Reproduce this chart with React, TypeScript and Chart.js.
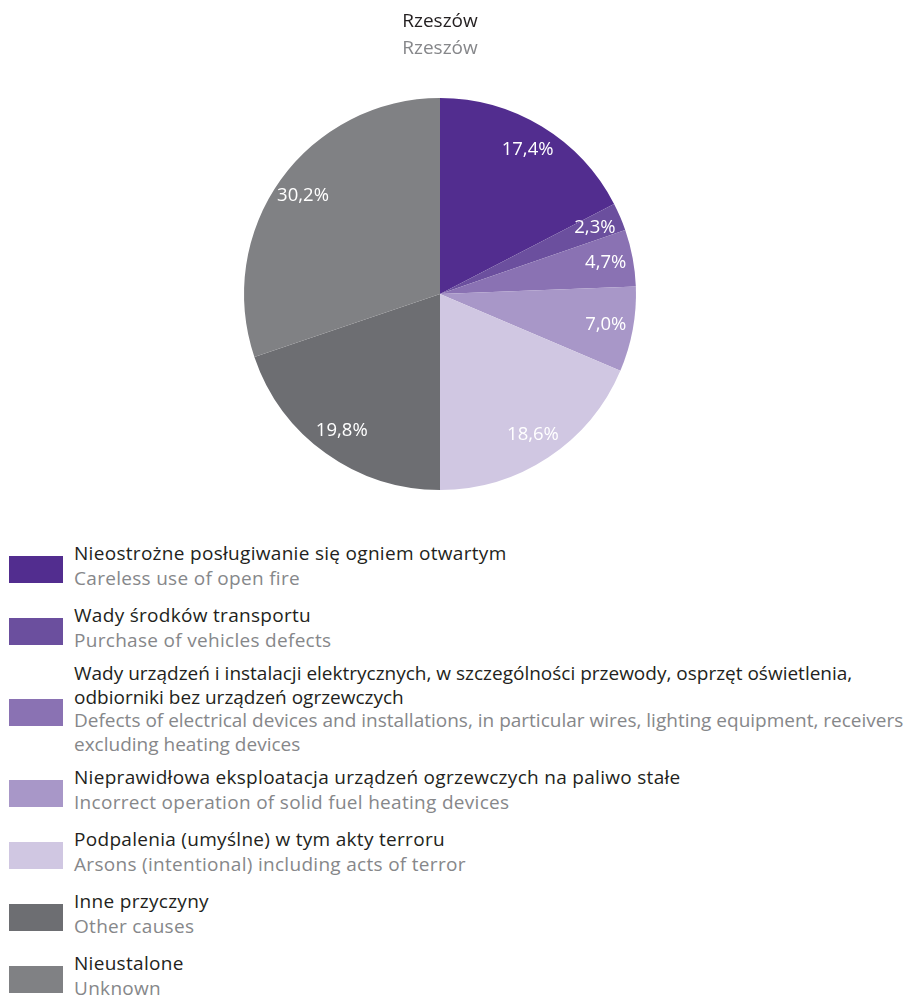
import React, { useEffect, useRef } from "react";
import { Chart, registerables } from "chart.js";

Chart.register(...registerables);

const titlePl = "Rzeszów";
const titleEn = "Rzeszów";

const labelsPl = [
  "Nieostrożne posługiwanie się ogniem otwartym",
  "Wady środków transportu",
  "Wady urządzeń i instalacji elektrycznych, w szczególności przewody, osprzęt oświetlenia,\nodbiorniki bez urządzeń ogrzewczych",
  "Nieprawidłowa eksploatacja urządzeń ogrzewczych na paliwo stałe",
  "Podpalenia (umyślne) w tym akty terroru",
  "Inne przyczyny",
  "Nieustalone",
];

const labelsEn = [
  "Careless use of open fire",
  "Purchase of vehicles defects",
  "Defects of electrical devices and installations, in particular wires, lighting equipment, receivers\nexcluding heating devices",
  "Incorrect operation of solid fuel heating devices",
  "Arsons (intentional) including acts of terror",
  "Other causes",
  "Unknown",
];

const values = [17.4, 2.3, 4.7, 7.0, 18.6, 19.8, 30.2];

const colors = [
  "#522d8f",
  "#6b4f9e",
  "#8a72b3",
  "#a897c8",
  "#d0c7e2",
  "#6d6e72",
  "#808184",
];

const FONT = "'Open Sans', 'Noto Sans', sans-serif";
const DARK = "#231f20";
const GREY = "#86878a";

const fmt = (v: number) => v.toFixed(1).replace(".", ",") + "%";

const pctLabels = {
  id: "pctLabels",
  afterDatasetsDraw(chart: any) {
    const ctx = chart.ctx;
    const meta = chart.getDatasetMeta(0);
    ctx.save();
    ctx.fillStyle = "#ffffff";
    ctx.font = `18.5px ${FONT}`;
    ctx.textAlign = "center";
    ctx.textBaseline = "middle";
    meta.data.forEach((arc: any, i: number) => {
      const mid = (arc.startAngle + arc.endAngle) / 2;
      const r = arc.outerRadius * 0.86;
      ctx.fillText(fmt(values[i]), arc.x + Math.cos(mid) * r, arc.y + Math.sin(mid) * r);
    });
    ctx.restore();
  },
};

const isMulti = (i: number) => i >= 0 && i < labelsPl.length && labelsPl[i].includes("\n");

export default function App() {
  const ref = useRef<HTMLCanvasElement | null>(null);

  useEffect(() => {
    if (!ref.current) return;
    const chart = new Chart(ref.current, {
      type: "pie",
      data: {
        labels: labelsPl,
        datasets: [
          {
            data: values,
            backgroundColor: colors,
            borderWidth: 0,
          },
        ],
      },
      options: {
        animation: false,
        responsive: true,
        maintainAspectRatio: false,
        layout: { padding: { top: 0, bottom: 18, left: 0, right: 0 } },
        plugins: {
          legend: { display: false },
          tooltip: { enabled: false },
          title: {
            display: true,
            text: titlePl,
            color: DARK,
            font: { family: FONT, size: 19, weight: "normal", lineHeight: 1.2 },
            padding: { top: 2.4, bottom: 4.4 },
          },
          subtitle: {
            display: true,
            text: titleEn,
            color: GREY,
            font: { family: FONT, size: 19, weight: "normal", lineHeight: 1.2 },
            padding: { top: 0, bottom: 37.6 },
          },
        },
      },
      plugins: [pctLabels],
    });
    return () => chart.destroy();
  }, []);

  return (
    <div style={{ fontFamily: FONT }}>
      <div style={{ position: "relative", width: 864, height: 500 }}>
        <canvas ref={ref} />
      </div>
      <div style={{ marginTop: 33 }}>
        {labelsPl.map((pl, i) => {
          const multi = isMulti(i);
          const mt = i === 0 ? 0 : multi || isMulti(i - 1) ? 9 : 12;
          return (
            <div
              key={i}
              style={{
                display: "flex",
                alignItems: "center",
                marginTop: mt,
              }}
            >
              <div
                style={{
                  width: 54,
                  height: 27,
                  marginLeft: 1,
                  marginRight: 11,
                  marginTop: 7,
                  background: colors[i],
                  flex: "none",
                }}
              />
              <div
                style={{
                  fontSize: 19,
                  lineHeight: multi ? "23.5px" : "25px",
                  letterSpacing: multi ? "0px" : "0.3px",
                  whiteSpace: "pre",
                }}
              >
                <div style={{ color: DARK }}>{pl}</div>
                <div style={{ color: GREY }}>{labelsEn[i]}</div>
              </div>
            </div>
          );
        })}
      </div>
    </div>
  );
}
